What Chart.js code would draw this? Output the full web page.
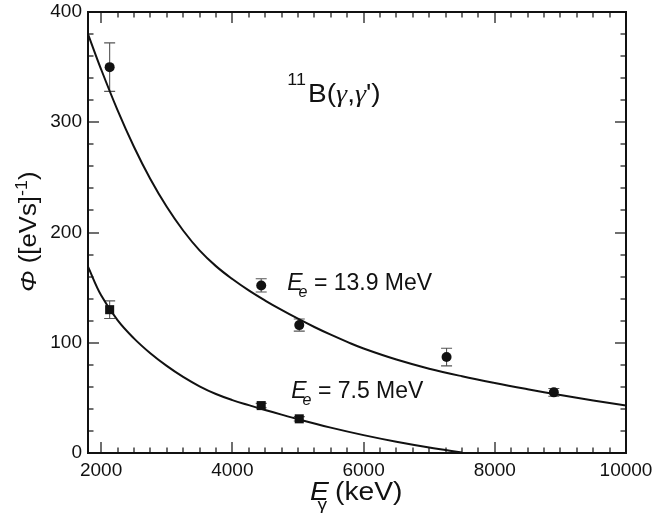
<!DOCTYPE html>
<html>
<head>
<meta charset="utf-8">
<script src="https://cdn.jsdelivr.net/npm/chart.js@4/dist/chart.umd.min.js"></script>
<style>
  html, body { margin: 0; padding: 0; background: #fff; }
  #wrap { width: 654px; height: 518px; }
</style>
</head>
<body>
<div id="wrap"><canvas id="c" width="654" height="518"></canvas></div>
<script>
// ---- data ----
const xTickValues = [2000, 4000, 6000, 8000, 10000];
const yTickValues = [0, 100, 200, 300, 400];

// E_e = 13.9 MeV measurements (circles)
const circleE   = [2130, 4440, 5020, 7265, 8900];
const circlePhi = [350, 152, 116, 87, 55];
const circleErr = [22, 6, 5.5, 8, 3.5];

// E_e = 7.5 MeV measurements (squares)
const squareE   = [2130, 4440, 5020];
const squarePhi = [130, 43, 31];
const squareErr = [8, 2, 2];

// calculated spectra (solid curves)
const upperCurveE   = [1800, 2000, 2250, 2500, 2750, 3000, 3250, 3500, 3750, 4000, 4250, 4500, 4750, 5000, 5250, 5500, 5750, 6000, 6500, 7000, 7500, 8000, 8500, 9000, 9500, 10000];
const upperCurvePhi = [380, 348, 311, 277.8, 248.5, 223.3, 201.8, 183.8, 169.5, 157.8, 147.5, 138.3, 129.8, 121.8, 114.3, 107.3, 100.8, 94.8, 84.8, 76.5, 69.6, 63.5, 57.9, 52.6, 47.7, 43.1];
const lowerCurveE   = [1800, 2000, 2250, 2500, 2750, 3000, 3250, 3500, 3750, 4000, 4250, 4500, 4750, 5000, 5500, 6000, 6500, 7000, 7500];
const lowerCurvePhi = [169, 143, 120.5, 104, 90.5, 79, 69, 60.5, 53.5, 48, 43.4, 39, 34.8, 30.6, 23, 16.2, 10.2, 5, 0.5];

const SANS = '"Liberation Sans", Arial, Helvetica, sans-serif';
const SERIF = '"Liberation Serif", "Times New Roman", serif';

const pts = (xs, ys) => xs.map((x, i) => ({ x: x, y: ys[i] }));

function drawRich(ctx, px, py, parts, sx, angle) {
  ctx.save();
  ctx.translate(px, py);
  if (angle) ctx.rotate(angle);
  ctx.scale(sx, 1);
  ctx.textBaseline = 'alphabetic';
  ctx.textAlign = 'left';
  let cx = 0;
  for (const p of parts) {
    ctx.font = p.font;
    cx += (p.dx || 0);
    ctx.fillText(p.t, cx, p.dy || 0);
    cx += ctx.measureText(p.t).width;
  }
  ctx.restore();
}

function drawFrame(chart) {
  const ctx = chart.ctx;
  const xs = chart.scales.x, ys = chart.scales.y;
  const L = xs.getPixelForValue(1800), R = xs.getPixelForValue(10000);
  const T = ys.getPixelForValue(400), B = ys.getPixelForValue(0);
  ctx.save();
  ctx.fillStyle = '#111111';
  for (let v = 2000; v <= 10000; v += 250) {
    const px = Math.round(xs.getPixelForValue(v));
    const len = (v % 2000 === 0) ? 11 : 5.5;
    ctx.fillRect(px - 0.6, B - len, 1.2, len);
    ctx.fillRect(px - 0.6, T, 1.2, len);
  }
  for (let v = 0; v <= 400; v += 20) {
    const py = Math.round(ys.getPixelForValue(v));
    const len = (v % 100 === 0) ? 11 : 5.5;
    ctx.fillRect(L, py - 0.6, len, 1.2);
    ctx.fillRect(R - len, py - 0.6, len, 1.2);
  }
  const w = 2;
  ctx.fillRect(L - w / 2, T - w / 2, R - L + w, w);
  ctx.fillRect(L - w / 2, B - w / 2, R - L + w, w);
  ctx.fillRect(L - w / 2, T - w / 2, w, B - T + w);
  ctx.fillRect(R - w / 2, T - w / 2, w, B - T + w);
  ctx.restore();
}

const decor = {
  id: 'decor',
  beforeDatasetsDraw(chart) {
    const ctx = chart.ctx;
    const xs = chart.scales.x, ys = chart.scales.y;
    ctx.save();
    ctx.strokeStyle = '#555';
    ctx.lineWidth = 1.1;
    const bars = (es, ph, er) => {
      es.forEach((e, i) => {
        const px = xs.getPixelForValue(e);
        const top = ys.getPixelForValue(ph[i] + er[i]);
        const bot = ys.getPixelForValue(ph[i] - er[i]);
        ctx.beginPath();
        ctx.moveTo(px, top); ctx.lineTo(px, bot);
        ctx.moveTo(px - 5.5, top); ctx.lineTo(px + 5.5, top);
        ctx.moveTo(px - 5.5, bot); ctx.lineTo(px + 5.5, bot);
        ctx.stroke();
      });
    };
    bars(circleE, circlePhi, circleErr);
    bars(squareE, squarePhi, squareErr);
    ctx.restore();
  },
  afterDraw(chart) {
    const ctx = chart.ctx;
    const xs = chart.scales.x, ys = chart.scales.y;
    drawFrame(chart);
    ctx.save();
    ctx.fillStyle = '#111';
    // x-axis title
    drawRich(ctx, 310, 500, [
      { t: 'E', font: 'italic 25px ' + SANS },
      { t: 'γ', font: '17px ' + SANS, dx: -10, dy: 10 },
      { t: ' (keV)', font: '25px ' + SANS }
    ], 1.13, 0);
    // y-axis title (rotated)
    drawRich(ctx, 36, 292, [
      { t: 'Φ', font: 'italic 23px ' + SANS },
      { t: ' ([eVs]', font: '23px ' + SANS },
      { t: '-1', font: '16px ' + SANS, dy: -9 },
      { t: ')', font: '23px ' + SANS }
    ], 1.12, -Math.PI / 2);

    // reaction label
    drawRich(ctx, xs.getPixelForValue(4837), ys.getPixelForValue(318.5), [
      { t: '11', font: '16px ' + SANS, dy: -17 },
      { t: 'B(', font: '25px ' + SANS, dx: 2 },
      { t: 'γ', font: 'italic 25px ' + SERIF },
      { t: ',', font: '25px ' + SANS },
      { t: 'γ', font: 'italic 25px ' + SERIF },
      { t: '\')', font: '25px ' + SANS }
    ], 1.12, 0);

    // curve labels
    drawRich(ctx, xs.getPixelForValue(4837), ys.getPixelForValue(148), [
      { t: 'E', font: 'italic 23px ' + SANS },
      { t: 'e', font: 'italic 16px ' + SANS, dx: -4, dy: 7 },
      { t: ' = 13.9 MeV', font: '23px ' + SANS }
    ], 1.0, 0);
    drawRich(ctx, xs.getPixelForValue(4898), ys.getPixelForValue(50), [
      { t: 'E', font: 'italic 23px ' + SANS },
      { t: 'e', font: 'italic 16px ' + SANS, dx: -4, dy: 7 },
      { t: ' = 7.5 MeV', font: '23px ' + SANS }
    ], 1.0, 0);
    ctx.restore();
  }
};

new Chart(document.getElementById('c'), {
  type: 'scatter',
  data: {
    datasets: [
      { type: 'line', data: pts(upperCurveE, upperCurvePhi), borderColor: '#111', borderWidth: 2,
        pointRadius: 0, tension: 0.4, fill: false, showLine: true },
      { type: 'line', data: pts(lowerCurveE, lowerCurvePhi), borderColor: '#111', borderWidth: 2,
        pointRadius: 0, tension: 0.4, fill: false, showLine: true },
      { type: 'scatter', data: pts(circleE, circlePhi), pointStyle: 'circle', pointRadius: 5,
        backgroundColor: '#111', borderColor: '#111', borderWidth: 0 },
      { type: 'scatter', data: pts(squareE, squarePhi), pointStyle: 'rect', pointRadius: 6.4,
        backgroundColor: '#111', borderColor: '#111', borderWidth: 0 }
    ]
  },
  options: {
    responsive: false,
    animation: false,
    events: [],
    layout: { padding: { left: 0, right: 28, top: 12, bottom: 0 } },
    plugins: { legend: { display: false }, tooltip: { enabled: false } },
    scales: {
      x: {
        type: 'linear', min: 1800, max: 10000,
        grid: { display: false, drawTicks: false },
        border: { display: false },
        afterBuildTicks: s => { s.ticks = xTickValues.map(v => ({ value: v })); },
        afterFit: s => { s.height = 65; s.paddingLeft = 0; s.paddingRight = 0; },
        ticks: { font: { size: 19, family: SANS }, color: '#111', padding: 6,
                 maxRotation: 0, autoSkip: false, callback: v => String(v) }
      },
      y: {
        type: 'linear', min: 0, max: 400,
        grid: { display: false, drawTicks: false },
        border: { display: false },
        afterBuildTicks: s => { s.ticks = yTickValues.map(v => ({ value: v })); },
        afterFit: s => { s.width = 88; s.paddingTop = 0; s.paddingBottom = 0; },
        ticks: { font: { size: 19, family: SANS }, color: '#111', padding: 6,
                 autoSkip: false, callback: v => String(v) }
      }
    }
  },
  plugins: [decor]
});
</script>
</body>
</html>
